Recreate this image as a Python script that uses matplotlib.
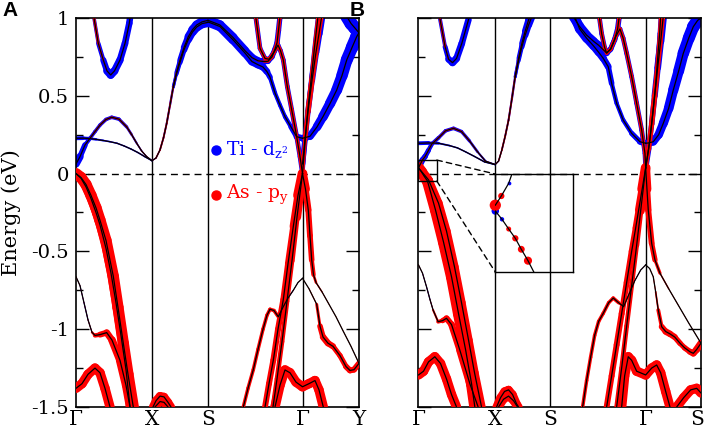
import numpy as np
import matplotlib
matplotlib.use("Agg")
import matplotlib.pyplot as plt
from matplotlib.collections import LineCollection
from matplotlib.patches import Rectangle, ConnectionPatch
from matplotlib.transforms import ScaledTranslation

# k-path nodes (same path length units in both panels)
nodes_A = [0.0, 0.76, 1.32, 2.265, 2.83]
labels_A = ["Γ", "X", "S", "Γ", "Y"]
nodes_B = [0.0, 0.766, 1.318, 2.27, 2.823]
labels_B = ["Γ", "X", "S", "Γ", "S"]

# ---------------- panel A bands: k, E, Ti-dz2 weight, As-py weight ----------------
kA_par = [0.18, 0.223, 0.273, 0.31, 0.347, 0.385, 0.44, 0.49, 0.533, 0.54]
eA_par = [1.0, 0.837, 0.73, 0.66, 0.634, 0.66, 0.73, 0.837, 0.966, 1.0]
bA_par = [0.3, 0.3, 0.45, 0.6, 0.7, 0.65, 0.6, 0.55, 0.55, 0.55]
rA_par = [0.25, 0.2, 0.1, 0.05, 0.03, 0.03, 0.03, 0.03, 0.03, 0.03]

kA_c1 = [0, 0.04, 0.09, 0.14, 0.19, 0.24, 0.30, 0.357, 0.43, 0.507, 0.557, 0.607, 0.657, 0.707, 0.76]
eA_c1 = [0.062, 0.109, 0.184, 0.227, 0.27, 0.312, 0.348, 0.362, 0.35, 0.30, 0.25, 0.195, 0.145, 0.109, 0.083]
bA_c1 = [0.7, 0.55, 0.4, 0.3, 0.3, 0.3, 0.3, 0.3, 0.3, 0.25, 0.2, 0.15, 0.12, 0.1, 0.1]
rA_c1 = [0.0, 0.0, 0.05, 0.1, 0.15, 0.15, 0.15, 0.15, 0.15, 0.15, 0.12, 0.1, 0.1, 0.08, 0.08]

kA_c2 = [0, 0.07, 0.14, 0.20, 0.27, 0.34, 0.41, 0.48, 0.55, 0.62, 0.69, 0.76]
eA_c2 = [0.227, 0.228, 0.225, 0.22, 0.213, 0.205, 0.195, 0.178, 0.158, 0.135, 0.108, 0.083]
bA_c2 = [0.35, 0.3, 0.25, 0.18, 0.15, 0.13, 0.12, 0.12, 0.12, 0.12, 0.12, 0.12]
rA_c2 = 0.03

kA_xs1 = [0.76, 0.80, 0.84, 0.875, 0.907, 0.94, 0.973, 1.005, 1.04, 1.08, 1.123, 1.165, 1.207, 1.26, 1.32]
eA_xs1 = [0.083, 0.10, 0.152, 0.23, 0.323, 0.44, 0.558, 0.65, 0.73, 0.81, 0.88, 0.925, 0.955, 0.975, 0.985]
bA_xs1 = [0.1, 0.1, 0.12, 0.15, 0.15, 0.18, 0.2, 0.3, 0.4, 0.5, 0.6, 0.7, 0.75, 0.8, 0.8]
rA_xs1 = [0.08, 0.1, 0.15, 0.15, 0.15, 0.15, 0.15, 0.12, 0.1, 0.08, 0.05, 0.03, 0.02, 0.02, 0.02]

kA_xs2 = [0.973, 1.005, 1.04, 1.08, 1.123, 1.165, 1.207, 1.26, 1.32]
eA_xs2 = [0.555, 0.64, 0.715, 0.795, 0.862, 0.91, 0.942, 0.964, 0.972]
bA_xs2 = [0.2, 0.3, 0.4, 0.5, 0.6, 0.7, 0.75, 0.8, 0.8]
rA_xs2 = 0.03

kA_u1 = [1.32, 1.44, 1.57, 1.69, 1.76, 1.82, 1.88, 1.92, 1.96, 1.99, 2.01, 2.025, 2.04]
eA_u1 = [0.985, 0.955, 0.875, 0.79, 0.745, 0.725, 0.72, 0.722, 0.75, 0.80, 0.84, 0.92, 1.01]
bA_u1 = [0.8, 0.8, 0.75, 0.7, 0.65, 0.6, 0.5, 0.45, 0.45, 0.45, 0.45, 0.45, 0.45]
rA_u1 = [0.02, 0.02, 0.02, 0.03, 0.05, 0.08, 0.15, 0.25, 0.3, 0.3, 0.3, 0.3, 0.3]

kA_u2 = [1.32, 1.44, 1.57, 1.69, 1.76, 1.82, 1.87, 1.91, 1.94, 1.99, 2.04, 2.09, 2.15, 2.207, 2.265]
eA_u2 = [0.975, 0.945, 0.86, 0.775, 0.72, 0.70, 0.685, 0.655, 0.62, 0.518, 0.44, 0.366, 0.30, 0.237, 0.227]
bA_u2 = [0.8, 0.8, 0.75, 0.7, 0.65, 0.65, 0.6, 0.55, 0.4, 0.35, 0.35, 0.35, 0.4, 0.5, 0.55]
rA_u2 = 0.02

kA_bt = [1.797, 1.84, 1.89, 1.93, 1.98, 2.02, 2.045, 2.073, 2.113, 2.157, 2.207, 2.24, 2.265]
eA_bt = [1.01, 0.805, 0.74, 0.735, 0.78, 0.826, 0.79, 0.73, 0.56, 0.41, 0.237, 0.109, 0.0]
bA_bt = 0.4
rA_bt = 0.3

kA_g1 = [2.265, 2.34, 2.41, 2.47, 2.54, 2.607, 2.66, 2.707, 2.76, 2.807, 2.83]
eA_g1 = [0.227, 0.24, 0.30, 0.366, 0.45, 0.537, 0.63, 0.73, 0.81, 0.88, 0.905]
bA_g1 = [0.55, 0.6, 0.7, 0.8, 0.85, 0.9, 0.95, 1.0, 1.05, 1.1, 1.1]
rA_g1 = 0.02

kA_g2 = [2.707, 2.75, 2.79, 2.83]
eA_g2 = [1.01, 0.965, 0.935, 0.905]
bA_g2 = 1.1
rA_g2 = 0.02

kA_ra1 = [2.265, 2.28, 2.30, 2.325, 2.36, 2.39, 2.42]
eA_ra1 = [0.0, 0.12, 0.28, 0.45, 0.66, 0.84, 1.01]
bA_ra1 = 0.35
rA_ra1 = 0.3

kA_ra2 = [2.265, 2.29, 2.32, 2.36, 2.40, 2.43, 2.457]
eA_ra2 = [0.062, 0.22, 0.40, 0.60, 0.78, 0.90, 1.01]
bA_ra2 = [0.5, 0.45, 0.45, 0.5, 0.55, 0.6, 0.65]
rA_ra2 = [0.2, 0.35, 0.45, 0.45, 0.4, 0.35, 0.3]

kA_v1 = [0, 0.05, 0.10, 0.15, 0.20, 0.24, 0.30, 0.373, 0.42, 0.473, 0.52, 0.573]
eA_v1 = [0, -0.025, -0.07, -0.14, -0.22, -0.30, -0.43, -0.66, -0.86, -1.09, -1.29, -1.5]
rA_v1 = 0.95

kA_v2 = [0, 0.05, 0.10, 0.15, 0.20, 0.24, 0.30, 0.35, 0.40, 0.45, 0.50, 0.54]
eA_v2 = [0, -0.03, -0.085, -0.16, -0.25, -0.33, -0.48, -0.64, -0.83, -1.04, -1.26, -1.5]
rA_v2 = 0.7

kA_w = [0, 0.04, 0.08, 0.12, 0.16, 0.19, 0.24, 0.307, 0.36, 0.44, 0.50, 0.54]
eA_w = [-0.663, -0.72, -0.83, -0.94, -1.02, -1.04, -1.035, -1.022, -1.07, -1.2, -1.36, -1.5]
bA_w = [0.02, 0.05, 0.08, 0.08, 0.05, 0.02, 0, 0, 0, 0, 0, 0]
rA_w = [0.05, 0.05, 0.05, 0.05, 0.1, 0.3, 0.45, 0.55, 0.6, 0.7, 0.7, 0.7]

kA_z = [0, 0.06, 0.12, 0.19, 0.24, 0.29, 0.34]
eA_z = [-1.38, -1.35, -1.29, -1.25, -1.28, -1.38, -1.5]

kA_xb1 = [0.77, 0.80, 0.84, 0.88, 0.92, 0.95]
eA_xb1 = [-1.5, -1.46, -1.43, -1.435, -1.47, -1.5]
kA_xb2 = [0.79, 0.84, 0.88, 0.92]
eA_xb2 = [-1.5, -1.465, -1.47, -1.5]

kA_m = [1.673, 1.72, 1.773, 1.82, 1.87, 1.91, 1.94, 1.98, 2.023, 2.073, 2.12, 2.173, 2.22, 2.265]
eA_m = [-1.5, -1.38, -1.26, -1.13, -1.0, -0.91, -0.872, -0.88, -0.92, -0.855, -0.80, -0.75, -0.70, -0.673]
bA_m = [0, 0, 0, 0, 0, 0, 0, 0, 0, 0.06, 0.08, 0.06, 0.03, 0.02]
rA_m = [0.3, 0.3, 0.3, 0.3, 0.3, 0.3, 0.3, 0.3, 0.3, 0.1, 0.08, 0.05, 0.03, 0.02]

kA_l1 = [1.89, 1.93, 1.973, 2.02, 2.073, 2.12, 2.173, 2.22, 2.265]
eA_l1 = [-1.5, -1.35, -1.20, -1.00, -0.81, -0.58, -0.34, -0.14, 0.0]
rA_l1 = [0.5, 0.5, 0.5, 0.5, 0.5, 0.5, 0.55, 0.7, 0.95]
kA_l2 = [1.97, 2.01, 2.06, 2.11, 2.16, 2.21, 2.265]
eA_l2 = [-1.5, -1.32, -1.08, -0.82, -0.56, -0.28, 0.0]
rA_l2 = [0.4, 0.4, 0.4, 0.4, 0.4, 0.5, 0.9]

kA_r1 = [2.265, 2.295, 2.323, 2.34, 2.357, 2.375, 2.40, 2.46, 2.53, 2.60, 2.67, 2.75, 2.83]
eA_r1 = [0.0, -0.10, -0.234, -0.40, -0.555, -0.65, -0.70, -0.76, -0.84, -0.92, -1.01, -1.11, -1.22]
rA_r1 = [0.9, 0.6, 0.5, 0.5, 0.45, 0.3, 0.15, 0.08, 0.05, 0.05, 0.05, 0.05, 0.05]

kA_r2 = [2.265, 2.33, 2.407, 2.44, 2.47, 2.52, 2.57, 2.64, 2.70, 2.74, 2.78, 2.83]
eA_r2 = [-0.673, -0.74, -0.84, -0.98, -1.05, -1.09, -1.11, -1.17, -1.24, -1.265, -1.26, -1.22]
rA_r2 = [0.02, 0.05, 0.1, 0.4, 0.55, 0.55, 0.5, 0.4, 0.5, 0.5, 0.5, 0.5]

kA_zb = [1.99, 2.04, 2.09, 2.14, 2.20, 2.265, 2.33, 2.39, 2.43, 2.473]
eA_zb = [-1.5, -1.36, -1.262, -1.28, -1.34, -1.37, -1.35, -1.33, -1.39, -1.5]

# ---------------- panel B bands ----------------
kB_par = [0.21, 0.266, 0.30, 0.34, 0.38, 0.433, 0.50]
eB_par = [1.01, 0.815, 0.735, 0.713, 0.74, 0.837, 0.99]
bB_par = [0.3, 0.35, 0.5, 0.65, 0.6, 0.55, 0.55]
rB_par = [0.25, 0.15, 0.05, 0.03, 0.03, 0.03, 0.03]

kB_c1 = [0, 0.039, 0.066, 0.10, 0.133, 0.20, 0.27, 0.35, 0.43, 0.51, 0.59, 0.67, 0.766]
eB_c1 = [0.037, 0.087, 0.11, 0.15, 0.19, 0.23, 0.275, 0.291, 0.27, 0.21, 0.14, 0.08, 0.058]
bB_c1 = [0.5, 0.5, 0.45, 0.4, 0.35, 0.3, 0.3, 0.3, 0.3, 0.25, 0.2, 0.15, 0.1]
rB_c1 = [0.3, 0.15, 0.1, 0.1, 0.12, 0.15, 0.15, 0.15, 0.15, 0.12, 0.1, 0.08, 0.08]

kB_c2 = [0, 0.10, 0.20, 0.31, 0.39, 0.47, 0.56, 0.66, 0.766]
eB_c2 = [0.195, 0.197, 0.195, 0.18, 0.165, 0.14, 0.11, 0.075, 0.058]
bB_c2 = [0.35, 0.3, 0.18, 0.13, 0.12, 0.12, 0.12, 0.12, 0.12]
rB_c2 = 0.03

kB_xs1 = [0.766, 0.80, 0.833, 0.866, 0.90, 0.933, 0.966, 1.0, 1.033, 1.066, 1.10, 1.12]
eB_xs1 = [0.058, 0.08, 0.152, 0.24, 0.344, 0.48, 0.623, 0.74, 0.837, 0.915, 0.987, 1.02]
bB_xs1 = [0.1, 0.1, 0.12, 0.15, 0.15, 0.18, 0.2, 0.3, 0.4, 0.5, 0.6, 0.6]
rB_xs1 = [0.08, 0.1, 0.15, 0.15, 0.15, 0.15, 0.15, 0.12, 0.1, 0.08, 0.05, 0.05]

kB_xs2 = [0.966, 1.0, 1.033, 1.066, 1.10, 1.14]
eB_xs2 = [0.62, 0.725, 0.815, 0.89, 0.955, 1.02]
bB_xs2 = [0.2, 0.3, 0.4, 0.5, 0.6, 0.6]
rB_xs2 = 0.05

kB_u1 = [1.546, 1.61, 1.68, 1.75, 1.80, 1.84, 1.88, 1.92, 1.96, 1.99, 2.006]
eB_u1 = [1.01, 0.945, 0.89, 0.85, 0.825, 0.80, 0.775, 0.80, 0.86, 0.93, 1.01]
bB_u1 = [0.8, 0.8, 0.75, 0.7, 0.65, 0.6, 0.5, 0.45, 0.45, 0.45, 0.45]
rB_u1 = [0.02, 0.02, 0.02, 0.03, 0.05, 0.1, 0.2, 0.3, 0.3, 0.3, 0.3]

kB_u2 = [1.56, 1.61, 1.68, 1.75, 1.80, 1.846, 1.896, 1.93, 1.98, 2.046, 2.13, 2.213, 2.27]
eB_u2 = [1.01, 0.93, 0.87, 0.82, 0.78, 0.741, 0.687, 0.58, 0.452, 0.344, 0.259, 0.205, 0.195]
bB_u2 = [0.8, 0.8, 0.75, 0.7, 0.65, 0.6, 0.55, 0.4, 0.35, 0.35, 0.4, 0.5, 0.55]
rB_u2 = 0.02

kB_bt = [1.806, 1.83, 1.86, 1.88, 1.92, 1.97, 2.013, 2.045, 2.08, 2.13, 2.18, 2.23, 2.263, 2.27]
eB_bt = [1.01, 0.90, 0.81, 0.775, 0.80, 0.88, 0.93, 0.87, 0.773, 0.623, 0.452, 0.28, 0.13, 0.037]
bB_bt = 0.4
rB_bt = 0.3

kB_g1 = [2.27, 2.30, 2.346, 2.40, 2.446, 2.50, 2.546, 2.60, 2.646, 2.70, 2.746, 2.79, 2.823]
eB_g1 = [0.195, 0.197, 0.205, 0.25, 0.323, 0.42, 0.537, 0.66, 0.773, 0.87, 0.944, 0.985, 1.0]
bB_g1 = [0.55, 0.6, 0.65, 0.7, 0.75, 0.8, 0.85, 0.9, 0.95, 1.0, 1.05, 1.1, 1.1]
rB_g1 = 0.02

kB_ra1 = [2.27, 2.29, 2.313, 2.34, 2.37, 2.39, 2.41, 2.42]
eB_ra1 = [0.037, 0.12, 0.22, 0.38, 0.57, 0.74, 0.90, 1.01]
kB_ra2 = [2.27, 2.30, 2.33, 2.36, 2.39, 2.42, 2.446]
eB_ra2 = [0.037, 0.16, 0.32, 0.50, 0.68, 0.85, 1.01]
bB_ra2 = [0.5, 0.45, 0.45, 0.5, 0.55, 0.6, 0.65]
rB_ra2 = [0.3, 0.4, 0.45, 0.45, 0.4, 0.35, 0.3]

kB_v1 = [0, 0.03, 0.06, 0.09, 0.17, 0.25, 0.33, 0.40, 0.47, 0.53, 0.563]
eB_v1 = [0.037, 0.01, -0.02, -0.048, -0.234, -0.44, -0.663, -0.90, -1.13, -1.35, -1.5]
kB_v2 = [0, 0.1, 0.2, 0.28, 0.36, 0.43, 0.50, 0.56, 0.63]
eB_v2 = [0.037, -0.04, -0.19, -0.37, -0.60, -0.83, -1.07, -1.28, -1.5]

kB_w = [0, 0.04, 0.08, 0.115, 0.146, 0.196, 0.24, 0.28, 0.33, 0.413, 0.513, 0.596]
eB_w = [-0.587, -0.64, -0.727, -0.81, -0.877, -0.952, -0.945, -0.93, -0.97, -1.134, -1.35, -1.5]
bB_w = [0.02, 0.05, 0.08, 0.08, 0.05, 0.02, 0, 0, 0, 0, 0, 0]
rB_w = [0.05, 0.05, 0.05, 0.05, 0.1, 0.25, 0.4, 0.5, 0.55, 0.6, 0.65, 0.65]

kB_z = [0, 0.05, 0.10, 0.163, 0.22, 0.28, 0.33, 0.38]
eB_z = [-1.294, -1.27, -1.21, -1.177, -1.22, -1.32, -1.42, -1.5]

kB_xb1 = [0.78, 0.82, 0.86, 0.90, 0.94, 0.98, 1.0]
eB_xb1 = [-1.5, -1.44, -1.40, -1.39, -1.42, -1.48, -1.5]
kB_xb2 = [0.80, 0.85, 0.90, 0.95, 0.99]
eB_xb2 = [-1.5, -1.45, -1.43, -1.46, -1.5]

kB_m = [1.64, 1.68, 1.72, 1.76, 1.80, 1.846, 1.90, 1.946, 2.00, 2.05, 2.10, 2.16, 2.22, 2.27]
eB_m = [-1.5, -1.33, -1.18, -1.04, -0.95, -0.898, -0.83, -0.80, -0.83, -0.855, -0.78, -0.69, -0.62, -0.587]
bB_m = [0, 0, 0, 0, 0, 0, 0, 0, 0, 0.06, 0.08, 0.06, 0.03, 0.02]
rB_m = [0.3, 0.3, 0.3, 0.3, 0.3, 0.3, 0.3, 0.3, 0.3, 0.1, 0.08, 0.05, 0.03, 0.02]

kB_l1 = [1.88, 1.93, 1.98, 2.03, 2.08, 2.13, 2.17, 2.20, 2.235, 2.27]
eB_l1 = [-1.5, -1.30, -1.10, -0.90, -0.70, -0.50, -0.35, -0.234, -0.10, 0.037]
rB_l1 = [0.5, 0.5, 0.5, 0.5, 0.5, 0.5, 0.5, 0.55, 0.7, 0.95]
kB_l2 = [1.98, 2.03, 2.08, 2.13, 2.18, 2.22, 2.27]
eB_l2 = [-1.5, -1.25, -0.98, -0.72, -0.46, -0.24, 0.037]
rB_l2 = [0.4, 0.4, 0.4, 0.4, 0.4, 0.5, 0.9]

kB_r1 = [2.27, 2.283, 2.296, 2.33, 2.363, 2.413, 2.50, 2.60, 2.70, 2.823]
eB_r1 = [0.037, -0.10, -0.234, -0.448, -0.555, -0.64, -0.74, -0.85, -0.96, -1.09]
rB_r1 = [0.9, 0.6, 0.5, 0.5, 0.4, 0.15, 0.08, 0.05, 0.05, 0.05]

kB_r2 = [2.27, 2.31, 2.346, 2.37, 2.396, 2.43, 2.47, 2.513, 2.56, 2.613, 2.66, 2.713, 2.746, 2.78, 2.823]
eB_r2 = [-0.587, -0.61, -0.663, -0.76, -0.877, -0.984, -1.015, -1.03, -1.05, -1.09, -1.12, -1.145, -1.155, -1.13, -1.09]
rB_r2 = [0.02, 0.03, 0.05, 0.1, 0.2, 0.45, 0.55, 0.55, 0.5, 0.45, 0.45, 0.5, 0.55, 0.6, 0.6]

kB_zb = [2.03, 2.06, 2.096, 2.13, 2.18, 2.27, 2.33, 2.38, 2.42, 2.47, 2.513]
eB_zb = [-1.5, -1.30, -1.177, -1.20, -1.27, -1.294, -1.25, -1.23, -1.28, -1.40, -1.5]
kB_zs = [2.58, 2.65, 2.72, 2.78, 2.823]
eB_zs = [-1.5, -1.44, -1.39, -1.38, -1.41]

# inset of panel B (zoom at Gamma)
kI_up = [0, 0.0141, 0.0314, 0.039]
eI_up = [0.044, 0.0567, 0.0742, 0.087]
bI_up = [0, 0, 0.3, 0]
rI_up = [0.9, 0.5, 0, 0]
kI_dn = [0, 0.0157, 0.0314, 0.047, 0.061, 0.0767, 0.09]
eI_dn = [0.036, 0.0246, 0.0112, -0.0016, -0.0167, -0.0324, -0.0476]
bI_dn = [0.6, 0.35, 0, 0, 0, 0, 0]
rI_dn = [0, 0, 0.4, 0.5, 0.55, 0.65, 0]
inset_box = [0.0, 0.183, -0.048, 0.087]

bands_A = [
    (kA_par, eA_par, bA_par, rA_par), (kA_c1, eA_c1, bA_c1, rA_c1), (kA_c2, eA_c2, bA_c2, rA_c2),
    (kA_xs1, eA_xs1, bA_xs1, rA_xs1), (kA_xs2, eA_xs2, bA_xs2, rA_xs2),
    (kA_u1, eA_u1, bA_u1, rA_u1), (kA_u2, eA_u2, bA_u2, rA_u2), (kA_bt, eA_bt, bA_bt, rA_bt),
    (kA_g1, eA_g1, bA_g1, rA_g1), (kA_g2, eA_g2, bA_g2, rA_g2),
    (kA_ra1, eA_ra1, bA_ra1, rA_ra1), (kA_ra2, eA_ra2, bA_ra2, rA_ra2),
    (kA_v1, eA_v1, 0.0, rA_v1), (kA_v2, eA_v2, 0.0, rA_v2), (kA_w, eA_w, bA_w, rA_w),
    (kA_z, eA_z, 0.0, 0.8), (kA_xb1, eA_xb1, 0.0, 0.7), (kA_xb2, eA_xb2, 0.0, 0.7),
    (kA_m, eA_m, bA_m, rA_m), (kA_l1, eA_l1, 0.0, rA_l1), (kA_l2, eA_l2, 0.0, rA_l2),
    (kA_r1, eA_r1, 0.0, rA_r1), (kA_r2, eA_r2, 0.0, rA_r2), (kA_zb, eA_zb, 0.0, 0.8),
]
bands_B = [
    (kB_par, eB_par, bB_par, rB_par), (kB_c1, eB_c1, bB_c1, rB_c1), (kB_c2, eB_c2, bB_c2, rB_c2),
    (kB_xs1, eB_xs1, bB_xs1, rB_xs1), (kB_xs2, eB_xs2, bB_xs2, rB_xs2),
    (kB_u1, eB_u1, bB_u1, rB_u1), (kB_u2, eB_u2, bB_u2, rB_u2), (kB_bt, eB_bt, bB_bt, rB_bt),
    (kB_g1, eB_g1, bB_g1, rB_g1), (kB_ra1, eB_ra1, 0.35, 0.3), (kB_ra2, eB_ra2, bB_ra2, rB_ra2),
    (kB_v1, eB_v1, 0.0, 0.95), (kB_v2, eB_v2, 0.0, 0.7), (kB_w, eB_w, bB_w, rB_w),
    (kB_z, eB_z, 0.0, 0.8), (kB_xb1, eB_xb1, 0.0, 0.7), (kB_xb2, eB_xb2, 0.0, 0.7),
    (kB_m, eB_m, bB_m, rB_m), (kB_l1, eB_l1, 0.0, rB_l1), (kB_l2, eB_l2, 0.0, rB_l2),
    (kB_r1, eB_r1, 0.0, rB_r1), (kB_r2, eB_r2, 0.0, rB_r2), (kB_zb, eB_zb, 0.0, 0.8),
    (kB_zs, eB_zs, 0.0, 0.8),
]

plt.rcParams['font.family'] = ['DejaVu Serif']
plt.rcParams['mathtext.fontset'] = 'dejavuserif'

FAT = 8.5  # line width (pt) for weight 1
BLUE = '#0000ff'
RED = '#ff0000'


def fat_band(ax, k, e, wb, wr):
    k = np.asarray(k, float)
    e = np.asarray(e, float)
    pts = np.column_stack([k, e]).reshape(-1, 1, 2)
    segs = np.concatenate([pts[:-1], pts[1:]], axis=1)
    for w, c, z in ((wb, BLUE, 2), (wr, RED, 3)):
        w = np.broadcast_to(np.asarray(w, float), k.shape)
        lw = (w[:-1] + w[1:]) / 2 * FAT
        ax.add_collection(LineCollection(segs, linewidths=lw, colors=c,
                                         capstyle='round', joinstyle='round', zorder=z))
    ax.plot(k, e, color='k', lw=0.9, zorder=4)


def setup(ax, nodes, labels, ylabels):
    ax.set_xlim(nodes[0], nodes[-1])
    ax.set_ylim(-1.5, 1.0)
    for x in nodes[1:-1]:
        ax.axvline(x, color='k', lw=1.0, zorder=1)
    ax.axhline(0, color='k', lw=1.0, ls=(0, (5, 3.5)), zorder=1)
    ax.set_xticks(nodes)
    ax.set_xticklabels(labels, fontsize=14.5)
    ax.tick_params(axis='x', length=0, pad=2)
    ax.set_yticks(np.arange(-1.5, 1.01, 0.5))
    ax.set_yticks(np.arange(-1.5, 1.01, 0.25), minor=True)
    ax.tick_params(axis='y', which='both', direction='in', left=True, right=True,
                   labelsize=14, pad=5)
    ax.tick_params(axis='y', which='major', length=9.5, width=1.0)
    ax.tick_params(axis='y', which='minor', length=5, width=1.0)
    if ylabels:
        ax.set_yticklabels(['-1.5', '-1', '-0.5', '0', '0.5', '1'])
    else:
        ax.set_yticklabels([])
    for s in ax.spines.values():
        s.set_linewidth(1.2)


fig = plt.figure(figsize=(7.06, 4.28), dpi=100)
axA = fig.add_axes([76 / 706, 1 - 407 / 428, 283 / 706, 389 / 428])
axB = fig.add_axes([418.5 / 706, 1 - 407 / 428, 282.5 / 706, 389 / 428])

setup(axA, nodes_A, labels_A, True)
setup(axB, nodes_B, labels_B, False)
axA.set_ylabel('Energy (eV)', fontsize=15)
axA.yaxis.set_label_coords(-0.195, 0.5)

# last label of panel B sits at the figure edge: nudge it left
last = axB.get_xticklabels()[-1]
last.set_transform(last.get_transform() + ScaledTranslation(-4 / 100, 0, fig.dpi_scale_trans))

for k, e, wb, wr in bands_A:
    fat_band(axA, k, e, wb, wr)
for k, e, wb, wr in bands_B:
    fat_band(axB, k, e, wb, wr)

# legend drawn as text
axA.plot([0.495], [0.661], 'o', color=BLUE, ms=6.5, transform=axA.transAxes, zorder=6)
axA.text(0.53, 0.661, r'Ti - d$_{\mathrm{z}^{2}}$', color=BLUE, fontsize=13.5,
         transform=axA.transAxes, va='center', ha='left', zorder=6)
axA.plot([0.495], [0.545], 'o', color=RED, ms=6.5, transform=axA.transAxes, zorder=6)
axA.text(0.53, 0.545, r'As - p$_{\mathrm{y}}$', color=RED, fontsize=13.5,
         transform=axA.transAxes, va='center', ha='left', zorder=6)

# inset
x0, x1, y0, y1 = inset_box
axB.add_patch(Rectangle((x0, y0), x1 - x0, y1 - y0, fill=False, ec='k', lw=1.0, zorder=5))
axI = fig.add_axes([495.3 / 706, 1 - 272 / 428, 78 / 706, 98 / 428])
axI.patch.set_alpha(0)
axI.set_xlim(x0, x1)
axI.set_ylim(y0, y1)
axI.set_xticks([])
axI.set_yticks([])
for s in axI.spines.values():
    s.set_linewidth(1.0)
for k, e, wb, wr in ((kI_up, eI_up, bI_up, rI_up), (kI_dn, eI_dn, bI_dn, rI_dn)):
    axI.plot(k, e, color='k', lw=0.9, zorder=4)
    for w, c, z in ((wb, BLUE, 2), (wr, RED, 3)):
        w = np.asarray(w, float)
        m = w > 0
        axI.scatter(np.asarray(k)[m], np.asarray(e)[m], s=(w[m] * 9) ** 2, color=c,
                    zorder=z, clip_on=False, linewidths=0)
for ya, yb in ((y1, 1), (y0, 0)):
    cp = ConnectionPatch(xyA=(x1, ya), coordsA=axB.transData, xyB=(0, yb),
                         coordsB=axI.transAxes, ls=(0, (4, 3)), lw=1.0, color='k')
    fig.add_artist(cp)

fig.text(2 / 706, 1 - 1 / 428, 'A', fontfamily='Liberation Sans', fontweight='bold',
         fontsize=15, va='top', ha='left')
fig.text(350 / 706, 1 - 1 / 428, 'B', fontfamily='Liberation Sans', fontweight='bold',
         fontsize=15, va='top', ha='left')

fig.savefig('out.png', dpi=100)
